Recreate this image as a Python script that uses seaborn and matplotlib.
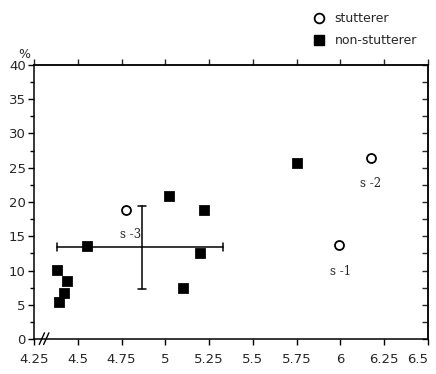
import matplotlib
matplotlib.use("Agg")
import matplotlib.pyplot as plt
import seaborn as sns
import pandas as pd
from matplotlib.lines import Line2D

# data
non_x = [4.55, 4.38, 4.44, 4.42, 4.39, 5.02, 5.22, 5.20, 5.10, 5.75]
non_y = [13.6, 10.1, 8.5, 6.7, 5.4, 20.9, 18.8, 12.6, 7.4, 25.7]
stu_x = [4.775, 5.99, 6.175]
stu_y = [18.8, 13.7, 26.4]
stu_labels = ["s -3", "s -1", "s -2"]
mean_x, mean_y = 4.867, 13.4
x_err = (4.38, 5.33)
y_err = (7.3, 19.4)
x_ticks = [4.25, 4.5, 4.75, 5, 5.25, 5.5, 5.75, 6, 6.25, 6.5]
x_tick_labels = ["4.25", "4.5", "4.75", "5", "5.25", "5.5", "5.75", "6", "6.25", "6.5"]
y_ticks = [0, 5, 10, 15, 20, 25, 30, 35, 40]

df = pd.DataFrame({
    "x": non_x + stu_x,
    "y": non_y + stu_y,
    "group": ["non-stutterer"] * len(non_x) + ["stutterer"] * len(stu_x),
})

sns.set_style("white")
plt.rcParams["font.family"] = ["DejaVu Sans"]

fig = plt.figure(figsize=(4.36, 3.74), dpi=100)
ax = fig.add_axes([34/436, 1-339/374, (428-34)/436, (339-65)/374])

# error cross
ax.plot([x_err[0], x_err[1]], [mean_y, mean_y], color="black", lw=1.1, zorder=1)
ax.plot([mean_x, mean_x], [y_err[0], y_err[1]], color="black", lw=1.1, zorder=1)
for xe in x_err:
    ax.plot([xe, xe], [mean_y - 0.6, mean_y + 0.6], color="black", lw=1.1)
for ye in y_err:
    ax.plot([mean_x - 0.025, mean_x + 0.025], [ye, ye], color="black", lw=1.1)

sns.scatterplot(data=df[df.group == "non-stutterer"], x="x", y="y", marker="s",
                s=48, color="black", edgecolor="black", ax=ax, legend=False, zorder=3)
sns.scatterplot(data=df[df.group == "stutterer"], x="x", y="y", marker="o",
                s=42, facecolor="white", edgecolor="black", linewidth=1.3,
                ax=ax, legend=False, zorder=3)

# point labels
offsets = [(4.80, 15.3), (6.0, 9.9), (6.17, 22.7)]
for lab, (tx, ty) in zip(stu_labels, offsets):
    ax.text(tx, ty, lab, fontsize=8.5, family="DejaVu Serif", ha="center", va="center")

ax.set_xlim(4.25, 6.5)
ax.set_ylim(0, 40)
ax.set_xticks(x_ticks)
ax.set_xticklabels(x_tick_labels)
ax.get_xticklabels()[-1].set_horizontalalignment("right")
ax.get_xticklabels()[-1].set_x(6.5)
ax.set_yticks(y_ticks)
ax.set_yticks([2.5 + 5 * i for i in range(8)], minor=True)
ax.set_xlabel("")
ax.set_ylabel("")
ax.tick_params(axis="both", which="both", direction="out", labelsize=9.5,
               color="black", left=True, bottom=True)
ax.tick_params(axis="both", which="major", length=4, width=1)
ax.tick_params(axis="both", which="minor", length=3, width=1)
ax.tick_params(axis="x", pad=6)
ax.tick_params(axis="y", pad=2)
for t in ax.xaxis.get_major_ticks()[-1:]:
    t.label1.set_horizontalalignment("right")
    t.label1.set_x(6.5)

sec_top = ax.secondary_xaxis("top")
sec_top.set_xticks(x_ticks)
sec_top.tick_params(direction="out", length=4, width=1, labeltop=False)
sec_right = ax.secondary_yaxis("right")
sec_right.set_yticks(y_ticks)
sec_right.set_yticks([2.5 + 5 * i for i in range(8)], minor=True)
sec_right.tick_params(which="both", direction="in", length=4, width=1, labelright=False)

for sp in ax.spines.values():
    sp.set_color("black")
    sp.set_linewidth(1.1)
for s in (sec_top, sec_right):
    for sp in s.spines.values():
        sp.set_linewidth(1.1)

# axis break
for dx in (0.0, 0.025):
    ax.plot([4.28 + dx, 4.31 + dx], [-0.8, 0.9], color="black", lw=1, clip_on=False)

fig.text(24/436, 1-54/374, "%", fontsize=9, ha="center", va="center")

handles = [
    Line2D([], [], marker="o", linestyle="none", markerfacecolor="white",
           markeredgecolor="black", markersize=7, markeredgewidth=1.3, label="stutterer"),
    Line2D([], [], marker="s", linestyle="none", markerfacecolor="black",
           markeredgecolor="black", markersize=7, label="non-stutterer"),
]
fig.legend(handles=handles, loc="upper left", bbox_to_anchor=(306/436, 1-7/374),
           frameon=False, fontsize=9, handletextpad=0.7, labelspacing=0.75,
           borderaxespad=0, handlelength=1.2)

fig.savefig("out.png", dpi=100)
